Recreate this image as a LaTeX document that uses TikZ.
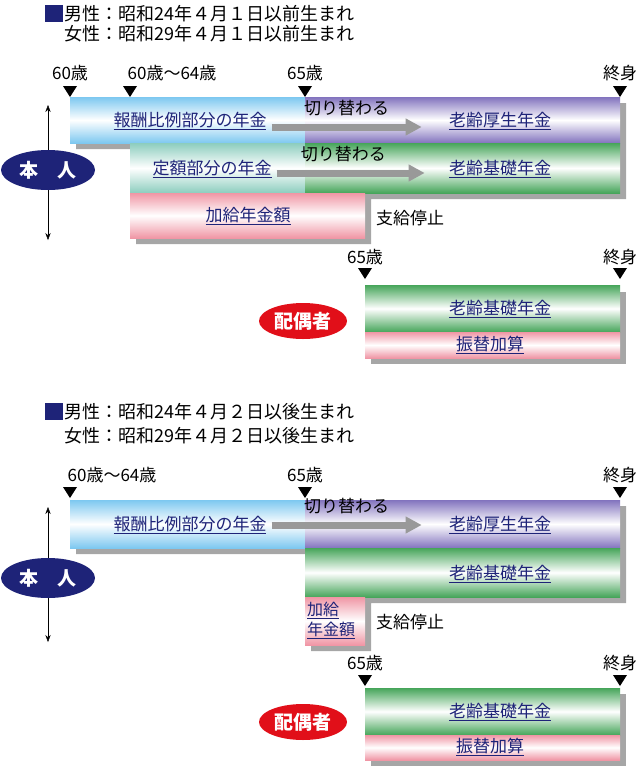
\documentclass[tikz,border=0pt]{standalone}
\usepackage{fontspec}
\setmainfont{Noto Sans CJK JP}
\usetikzlibrary{arrows.meta,positioning,shapes.geometric}
\definecolor{navy}{RGB}{30,35,120}
\definecolor{cblue}{RGB}{125,200,240}
\definecolor{cpurple}{RGB}{130,115,190}
\definecolor{cteal}{RGB}{140,205,190}
\definecolor{cgreen}{RGB}{70,165,90}
\definecolor{cpink}{RGB}{240,150,165}
\definecolor{cred}{RGB}{225,15,25}
\newcommand{\ul}[1]{\underline{#1}}
\begin{document}
\begin{tikzpicture}[x=1pt,y=-1pt,font=\fontsize{17}{19}\selectfont]
  \tikzset{bar/.style = {draw=none,top color=#1,bottom color=#1,middle color=white}}
  \tikzset{shadowbox/.style = {fill=black!35}}
  \tikzset{lbl/.style = {text=navy,inner sep=1pt}}
  \tikzset{oval/.style = {ellipse,fill=#1,text=white,font=\fontsize{19}{21}\bfseries\selectfont,minimum width=94pt,minimum height=40pt,inner sep=0pt}}
  \tikzset{swap/.style = {-{Triangle[length=16pt,width=16pt]},line width=7pt,draw=black!40}}
  \tikzset{span/.style = {{Stealth[length=7pt]}-{Stealth[length=7pt]},thin}}
  \tikzset{tickmark/.style = {fill=black}}
  \useasboundingbox (0,0) rectangle (638,777);

  % header 1
  \fill[navy] (45,5) rectangle (63,22);
  \node[anchor=west,inner sep=0,font=\fontsize{18}{20}\selectfont] (h1a) at (64,14) {男性：昭和24年４月１日以前生まれ};
  \node[anchor=west,inner sep=0,font=\fontsize{18}{20}\selectfont] (h1b) at (64,34) {女性：昭和29年４月１日以前生まれ};

  % ticks 1
  \foreach \x/\t in {70/,130/,305/65歳,620/終身}{
    \fill[tickmark] (\x-7,86) -- (\x+7,86) -- (\x,97) -- cycle;
    \node[inner sep=0] at (\x,73) {\t};}
  \node[inner sep=0] at (70,73) {60歳};
  \node[inner sep=0] at (172,73) {60歳～64歳};

  % shadows 1
  \fill[shadowbox] (76,103) -- (626,103) -- (626,199) -- (371,199) -- (371,244)
    -- (136,244) -- (136,149) -- (76,149) -- cycle;
  % bars 1
  \fill[bar=cblue] (70,97) rectangle (305,143);
  \fill[bar=cpurple] (305,97) rectangle (620,143);
  \fill[bar=cteal] (130,143) rectangle (305,193);
  \fill[bar=cgreen] (305,143) rectangle (620,193);
  \fill[bar=cpink] (130,193) rectangle (365,238);

  \node[lbl] (hirei1) at (190,121) {\ul{報酬比例部分の年金}};
  \node[lbl] (kosei1) at (500,121) {\ul{老齢厚生年金}};
  \node[lbl] (teigaku) at (212,169) {\ul{定額部分の年金}};
  \node[lbl] (kiso1) at (500,169) {\ul{老齢基礎年金}};
  \node[lbl] (kakyu1) at (248,216) {\ul{加給年金額}};
  \node (stop1) at (410,218) {支給停止};
  \draw[swap] (hirei1.east) ++(4,6) -- ++(150,0) node[pos=.5,above=4pt,black] (kiri1) {切り替わる};
  \draw[swap] (teigaku.east) ++(4,4) -- ++(148,0) node[pos=.45,above=4pt,black] (kiri2) {切り替わる};

  \coordinate (top1) at (48,105);
  \coordinate (bot1) at (48,240);
  \draw[span] (top1) -- (bot1);
  \node[oval=navy] (honnin1) at (48,170) {本\hspace{1em}人};

  % spouse 1
  \foreach \x/\t in {365/65歳,620/終身}{
    \fill[tickmark] (\x-7,268) -- (\x+7,268) -- (\x,279) -- cycle;
    \node[inner sep=0] at (\x,257) {\t};}
  \fill[shadowbox] (371,292) rectangle (626,364);
  \fill[bar=cgreen] (365,285) rectangle (620,332);
  \fill[bar=cpink] (365,332) rectangle (620,358);
  \node[lbl] (kiso2) at (500,309) {\ul{老齢基礎年金}};
  \node[lbl] (furikae1) at (490,345) {\ul{振替加算}};
  \node[oval=cred,minimum width=88pt,minimum height=36pt] (haigu1) at (303,321) {配偶者};

  % header 2
  \fill[navy] (45,403) rectangle (63,420);
  \node[anchor=west,inner sep=0,font=\fontsize{18}{20}\selectfont] (h2a) at (64,412) {男性：昭和24年４月２日以後生まれ};
  \node[anchor=west,inner sep=0,font=\fontsize{18}{20}\selectfont] (h2b) at (64,436) {女性：昭和29年４月２日以後生まれ};

  % ticks 2
  \foreach \x/\t in {70/,305/65歳,620/終身}{
    \fill[tickmark] (\x-7,487) -- (\x+7,487) -- (\x,498) -- cycle;
    \node[inner sep=0] at (\x,475) {\t};}
  \node[inner sep=0] at (112,475) {60歳～64歳};

  % shadows 2
  \fill[shadowbox] (76,506) -- (626,506) -- (626,603) -- (371,603) -- (371,651)
    -- (311,651) -- (311,554) -- (76,554) -- cycle;
  % bars 2
  \fill[bar=cblue] (70,500) rectangle (305,548);
  \fill[bar=cpurple] (305,500) rectangle (620,548);
  \fill[bar=cgreen] (305,548) rectangle (620,597);
  \fill[bar=cpink] (305,597) rectangle (365,645);

  \node[lbl] (hirei2) at (190,525) {\ul{報酬比例部分の年金}};
  \node[lbl] (kosei2) at (500,525) {\ul{老齢厚生年金}};
  \node[lbl] (kiso3) at (500,574) {\ul{老齢基礎年金}};
  \node[lbl,align=left,anchor=west,font=\fontsize{16}{20}\selectfont] (kakyu2) at (306,620) {\ul{加給}\\\ul{年金額}};
  \node (stop2) at (410,622) {支給停止};
  \draw[swap] (hirei2.east) ++(4,0) -- ++(150,0) node[pos=.5,above=4pt,black] (kiri3) {切り替わる};

  \coordinate (top2) at (48,507);
  \coordinate (bot2) at (48,642);
  \draw[span] (top2) -- (bot2);
  \node[oval=navy] (honnin2) at (48,578) {本\hspace{1em}人};

  % spouse 2
  \foreach \x/\t in {365/65歳,620/終身}{
    \fill[tickmark] (\x-7,675) -- (\x+7,675) -- (\x,686) -- cycle;
    \node[inner sep=0] at (\x,663) {\t};}
  \fill[shadowbox] (371,694) rectangle (626,766);
  \fill[bar=cgreen] (365,688) rectangle (620,735);
  \fill[bar=cpink] (365,735) rectangle (620,760);
  \node[lbl] (kiso4) at (500,712) {\ul{老齢基礎年金}};
  \node[lbl] (furikae2) at (490,747) {\ul{振替加算}};
  \node[oval=cred,minimum width=88pt,minimum height=36pt] (haigu2) at (303,722) {配偶者};
\end{tikzpicture}
\end{document}
